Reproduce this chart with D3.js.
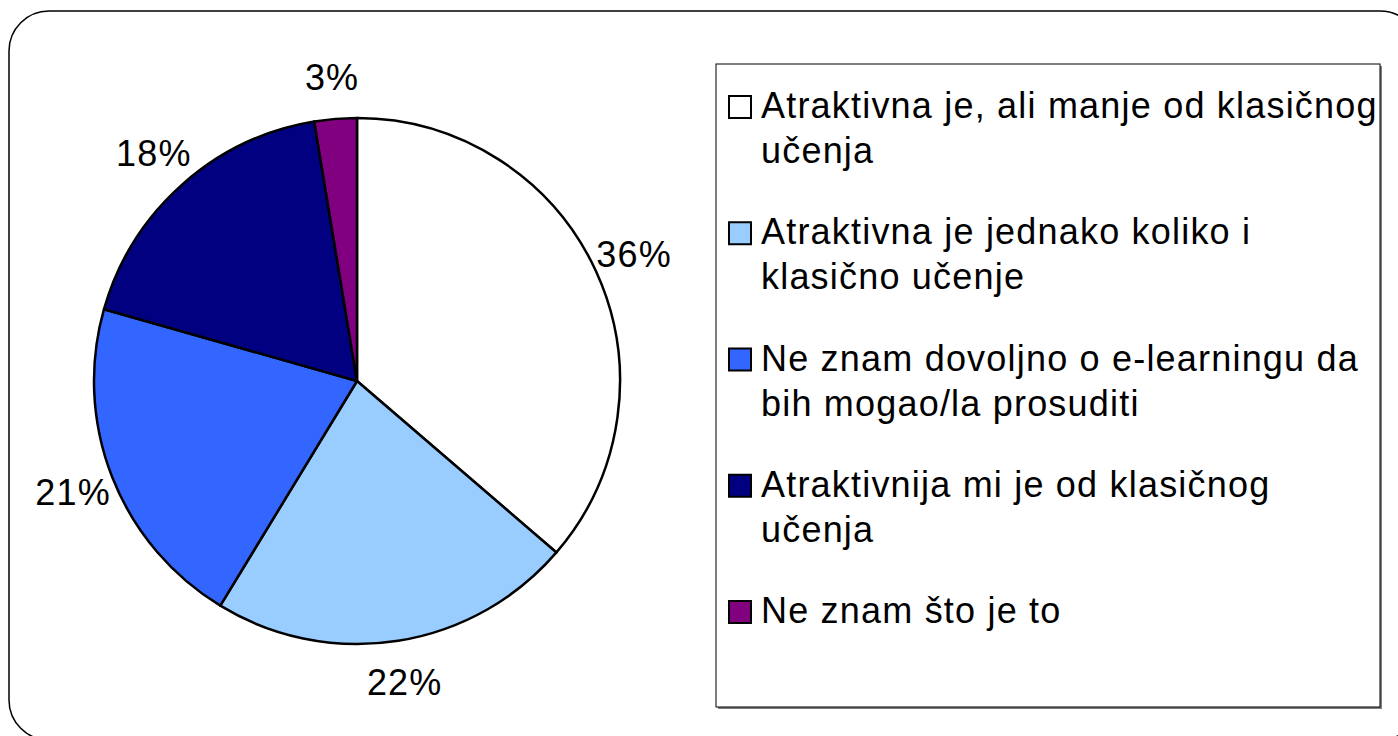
<!DOCTYPE html>
<html>
<head>
<meta charset="utf-8">
<script src="https://cdn.jsdelivr.net/npm/d3@7"></script>
<style>
  body { margin: 0; background: #fff; }
  svg text { font-family: "Liberation Sans", Arial, sans-serif; }
</style>
</head>
<body>
<div id="chart"></div>
<script>
// data
const categories = [
  "Atraktivna je, ali manje od klasičnog učenja",
  "Atraktivna je jednako koliko i klasično učenje",
  "Ne znam dovoljno o e-learningu da bih mogao/la prosuditi",
  "Atraktivnija mi je od klasičnog učenja",
  "Ne znam što je to"
]
const legendLines = [
  ["Atraktivna je, ali manje od klasičnog", "učenja"],
  ["Atraktivna je jednako koliko i", "klasično učenje"],
  ["Ne znam dovoljno o e-learningu da", "bih mogao/la prosuditi"],
  ["Atraktivnija mi je od klasičnog", "učenja"],
  ["Ne znam što je to"]
]
const values = [36.3, 22.4, 20.7, 18.0, 2.6]
const colors = ["#FFFFFF", "#99CCFF", "#3366FF", "#000080", "#800080"]

function drawPieChart() {
  const width = 1398
  const height = 736

  const svg = d3.select("#chart")
    .append("svg")
    .attr("width", width)
    .attr("height", height)

  // outer rounded frame
  svg.append("rect")
    .attr("x", 9).attr("y", 11)
    .attr("width", 1411).attr("height", 729)
    .attr("rx", 40).attr("ry", 40)
    .attr("fill", "none")
    .attr("stroke", "#000")
    .attr("stroke-width", 1.5)

  // pie
  const cx = 357, cy = 381, radius = 263
  const data = values.map((v, i) => ({ value: v, name: categories[i], color: colors[i] }))

  const pie = d3.pie().value(d => d.value).sort(null)
  const arc = d3.arc().innerRadius(0).outerRadius(radius)
  const labelArc = d3.arc().innerRadius(radius + 42).outerRadius(radius + 42)

  const g = svg.append("g").attr("transform", `translate(${cx}, ${cy})`)
  const arcs = pie(data)

  g.selectAll("path")
    .data(arcs)
    .join("path")
    .attr("d", arc)
    .attr("fill", d => d.data.color)
    .attr("stroke", "#000")
    .attr("stroke-width", 2.5)
    .attr("stroke-linejoin", "round")

  g.selectAll("text")
    .data(arcs)
    .join("text")
    .attr("transform", d => `translate(${labelArc.centroid(d)})`)
    .attr("text-anchor", "middle")
    .attr("dy", "0.36em")
    .attr("font-size", "36px")
    .attr("letter-spacing", "1.2px")
    .text(d => `${Math.round(d.data.value)}%`)

  // legend
  const lx = 716, ly = 64, lw = 664, lh = 643
  svg.append("rect")
    .attr("x", lx + 2).attr("y", ly + 2)
    .attr("width", lw).attr("height", lh)
    .attr("fill", "#808080")
  svg.append("rect")
    .attr("x", lx).attr("y", ly)
    .attr("width", lw).attr("height", lh)
    .attr("fill", "#fff")
    .attr("stroke", "#000")
    .attr("stroke-width", 1)

  const itemY = d3.scalePoint()
    .domain(d3.range(categories.length))
    .range([118, 623])

  const items = svg.selectAll(".legend-item")
    .data(data)
    .join("g")
    .attr("class", "legend-item")
    .attr("transform", (d, i) => `translate(0, ${itemY(i)})`)

  items.append("rect")
    .attr("x", 729).attr("y", -22)
    .attr("width", 22).attr("height", 22)
    .attr("fill", d => d.color)
    .attr("stroke", "#000")
    .attr("stroke-width", 2)

  items.append("text")
    .attr("x", 761)
    .attr("font-size", "36px")
    .attr("letter-spacing", "1.2px")
    .selectAll("tspan")
    .data((d, i) => legendLines[i])
    .join("tspan")
    .attr("x", 761)
    .attr("dy", (d, j) => j === 0 ? 0 : 45)
    .text(d => d)
}

drawPieChart()
</script>
</body>
</html>
